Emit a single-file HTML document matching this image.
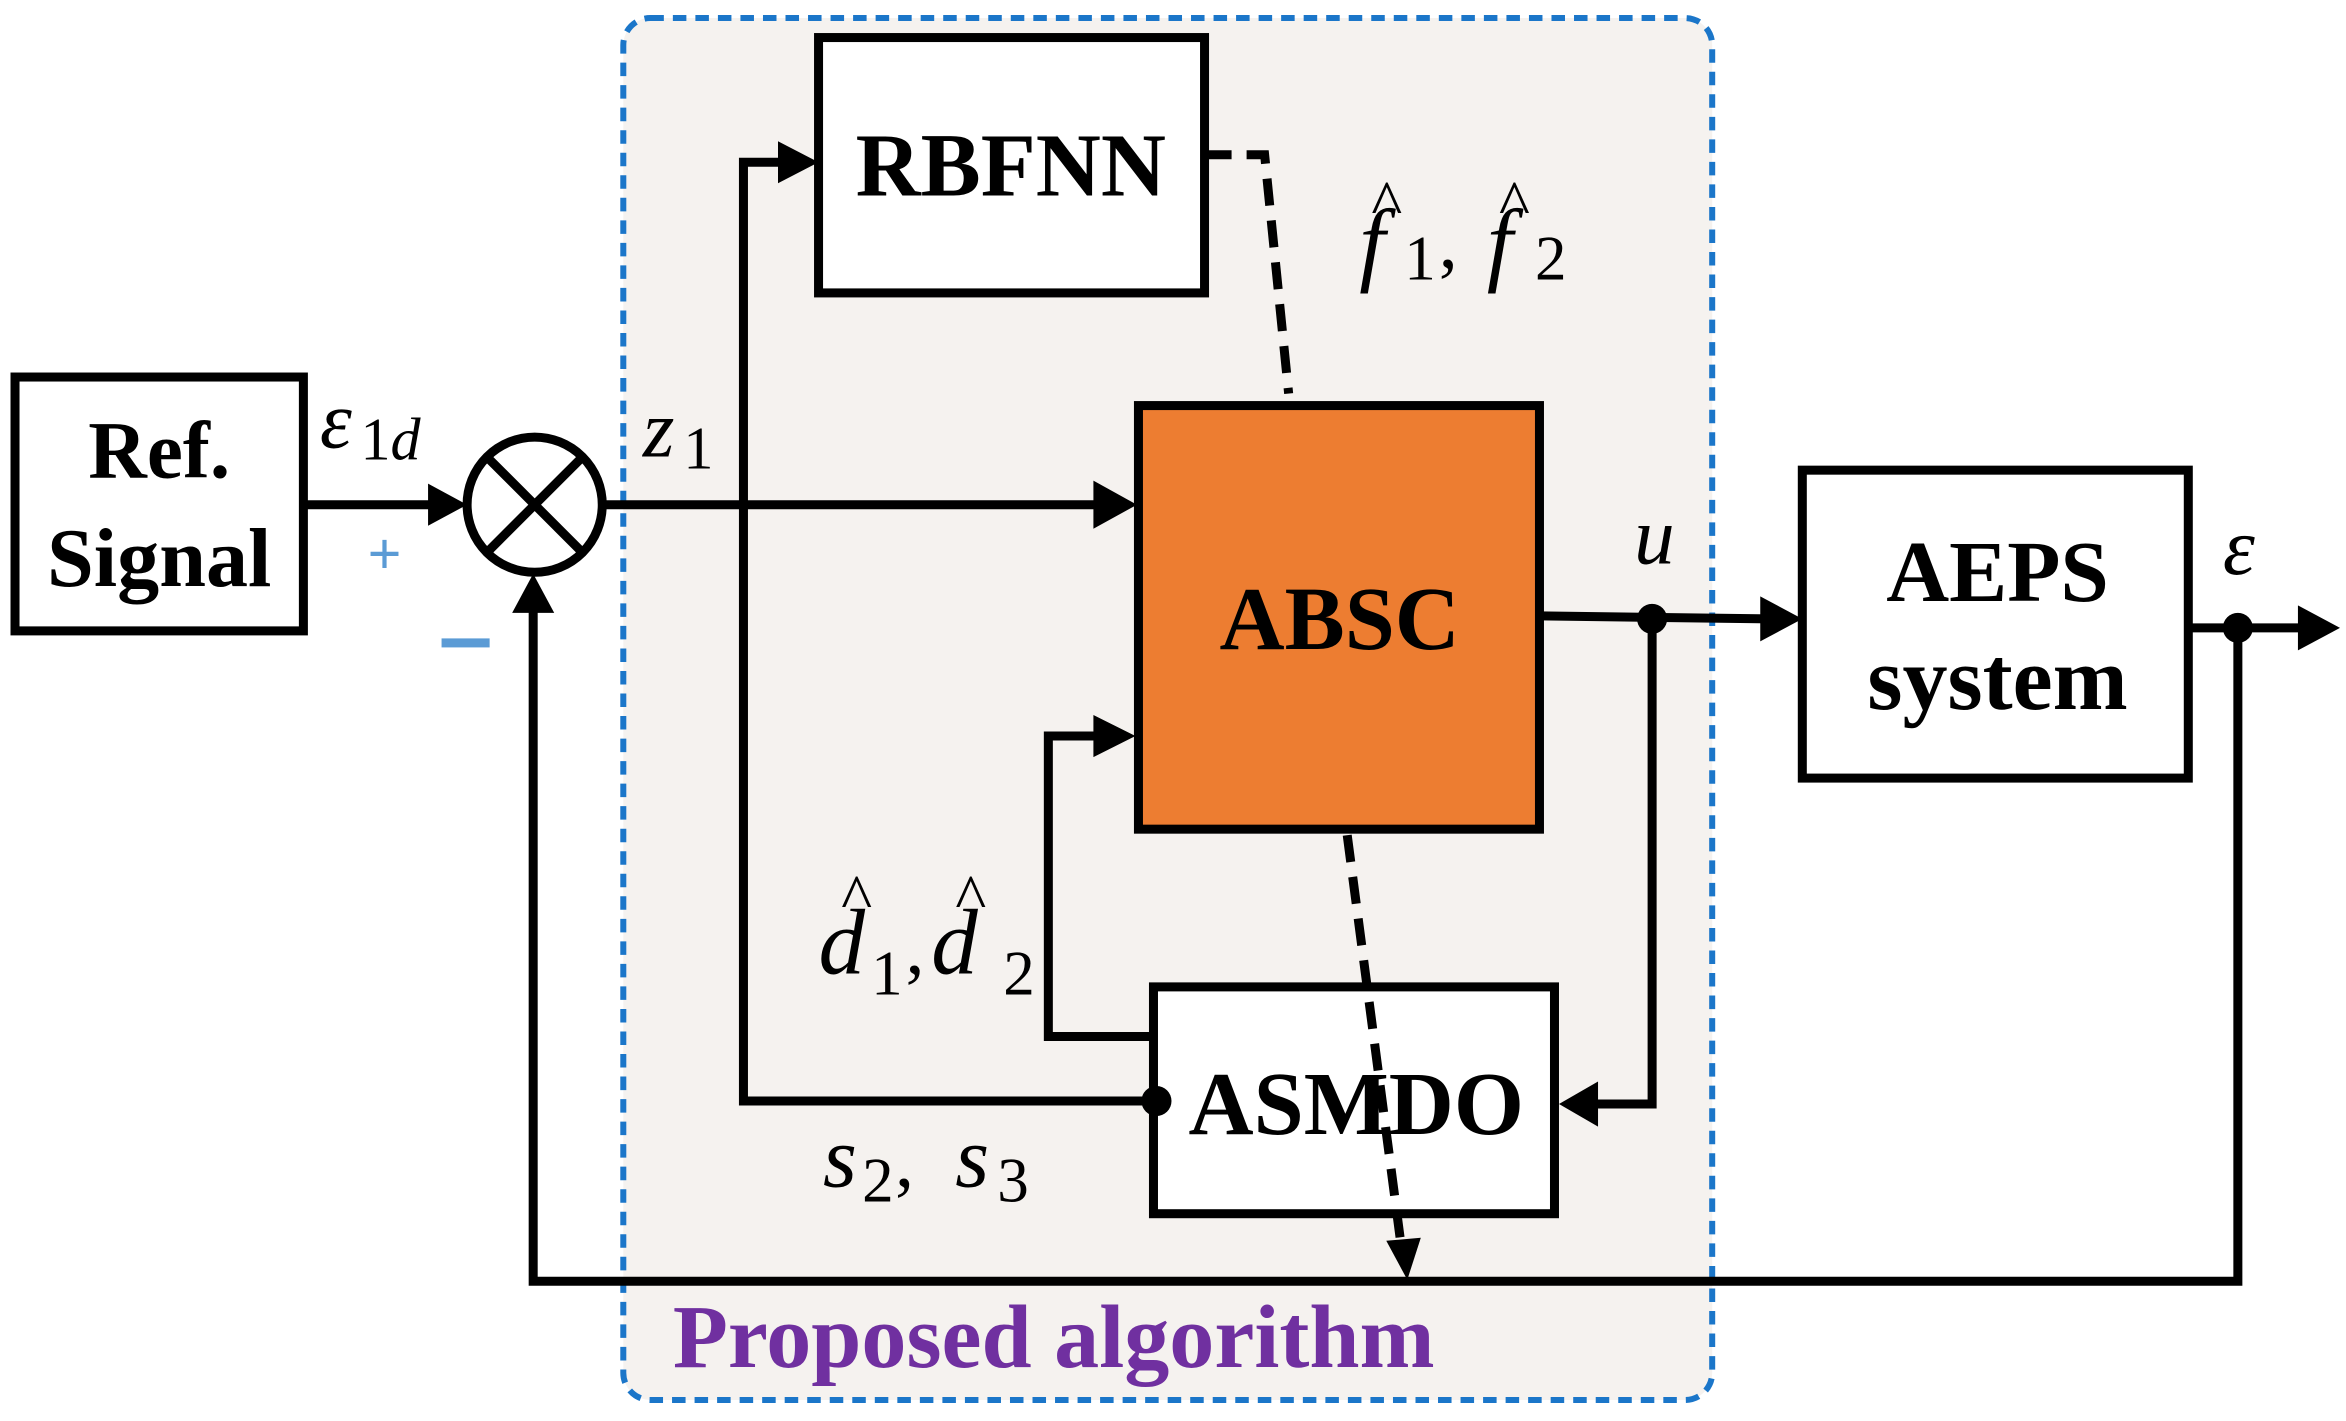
<!DOCTYPE html>
<html><head><meta charset="utf-8"><style>
html,body{margin:0;padding:0;background:#fff;}
svg{display:block;}
text{font-family:"Liberation Serif",serif;}
</style></head><body>
<svg width="2346" height="1421" viewBox="0 0 1562 946" preserveAspectRatio="none" xmlns="http://www.w3.org/2000/svg">
<rect x="415" y="12" width="725" height="920" rx="18" fill="#f5f2ef" stroke="#1b76c9" stroke-width="4" stroke-dasharray="9,6"/>
<!-- Ref signal -->
<rect x="10" y="251" width="192" height="169" fill="#fff" stroke="#000" stroke-width="6"/>
<text x="106" y="318" font-size="54" font-weight="bold" text-anchor="middle">Ref.</text>
<text x="106" y="390" font-size="56" font-weight="bold" text-anchor="middle">Signal</text>
<text x="213" y="298" font-size="54" font-style="italic">ε</text>
<text x="240" y="306" font-size="40">1</text>
<text x="260" y="306" font-size="40" font-style="italic">d</text>
<text x="256" y="382" font-size="40" fill="#5b9bd5" text-anchor="middle" font-weight="bold">+</text>
<rect x="294" y="425" width="32" height="6" fill="#5b9bd5"/>
<!-- summing -->
<line x1="202" y1="336" x2="290" y2="336" stroke="#000" stroke-width="6"/>
<polygon points="285,322 311,336 285,350" fill="#000"/>
<circle cx="356" cy="336" r="45" fill="#fff" stroke="#000" stroke-width="6"/>
<line x1="324" y1="304" x2="388" y2="368" stroke="#000" stroke-width="6"/>
<line x1="388" y1="304" x2="324" y2="368" stroke="#000" stroke-width="6"/>
<line x1="401" y1="336" x2="735" y2="336" stroke="#000" stroke-width="6"/>
<polygon points="728,320 757,336 728,352" fill="#000"/>
<text x="428" y="304" font-size="54" font-style="italic">z</text>
<text x="455" y="312" font-size="40">1</text>
<polyline points="770,733 495,733 495,108 525,108" fill="none" stroke="#000" stroke-width="6"/>
<polygon points="518,94 545,108 518,122" fill="#000"/>
<!-- RBFNN -->
<rect x="545" y="25" width="257" height="170" fill="#fff" stroke="#000" stroke-width="6"/>
<text x="673" y="130" font-size="60" font-weight="bold" text-anchor="middle">RBFNN</text>
<polyline points="802,103 842,103 858,262" fill="none" stroke="#000" stroke-width="6" stroke-dasharray="18,10"/>
<text x="905" y="182" font-size="62" font-style="italic">f</text>
<text x="913" y="150" font-size="44">^</text>
<text x="935" y="186" font-size="42">1</text>
<text x="958" y="178" font-size="50">,</text>
<text x="990" y="182" font-size="62" font-style="italic">f</text>
<text x="998" y="150" font-size="44">^</text>
<text x="1022" y="186" font-size="42">2</text>
<!-- ABSC -->
<rect x="758" y="270" width="267" height="282" fill="#ed7d31" stroke="#000" stroke-width="6"/>
<text x="892" y="432" font-size="60" font-weight="bold" text-anchor="middle">ABSC</text>
<line x1="1025" y1="410" x2="1178" y2="412" stroke="#000" stroke-width="6"/>
<polygon points="1172,397 1200,412 1172,427" fill="#000"/>
<circle cx="1100" cy="412" r="10" fill="#000"/>
<text x="1088" y="375" font-size="54" font-style="italic">u</text>
<polyline points="1100,412 1100,735 1058,735" fill="none" stroke="#000" stroke-width="6"/>
<polygon points="1064,720 1038,735 1064,750" fill="#000"/>
<!-- AEPS -->
<rect x="1200" y="313" width="257" height="205" fill="#fff" stroke="#000" stroke-width="6"/>
<text x="1330" y="400" font-size="58" font-weight="bold" text-anchor="middle">AEPS</text>
<text x="1330" y="472" font-size="60" font-weight="bold" text-anchor="middle">system</text>
<line x1="1457" y1="418" x2="1535" y2="418" stroke="#000" stroke-width="6"/>
<polygon points="1530,403 1558,418 1530,433" fill="#000"/>
<circle cx="1490" cy="418" r="10" fill="#000"/>
<text x="1480" y="382" font-size="54" font-style="italic">ε</text>
<polyline points="1490,418 1490,853 355,853 355,405" fill="none" stroke="#000" stroke-width="6"/>
<polygon points="341,408 355,382 369,408" fill="#000"/>
<polyline points="768,690 698,690 698,490 735,490" fill="none" stroke="#000" stroke-width="6"/>
<polygon points="728,476 756,490 728,504" fill="#000"/>
<!-- ASMDO -->
<rect x="768" y="657" width="267" height="151" fill="#fff" stroke="#000" stroke-width="6"/>
<text x="903" y="755" font-size="60" font-weight="bold" text-anchor="middle">ASMDO</text>
<circle cx="770" cy="733" r="10" fill="#000"/>
<line x1="897" y1="556" x2="933" y2="830" stroke="#000" stroke-width="6" stroke-dasharray="18,10"/>
<polygon points="923,826 937,852 946,824" fill="#000"/>
<text x="545" y="648" font-size="62" font-style="italic">d</text>
<text x="560" y="612" font-size="44">^</text>
<text x="580" y="662" font-size="42">1</text>
<text x="603" y="648" font-size="50">,</text>
<text x="620" y="648" font-size="62" font-style="italic">d</text>
<text x="636" y="612" font-size="44">^</text>
<text x="668" y="662" font-size="42">2</text>
<text x="548" y="790" font-size="58" font-style="italic">s</text>
<text x="574" y="800" font-size="42">2</text>
<text x="596" y="790" font-size="50">,</text>
<text x="636" y="790" font-size="58" font-style="italic">s</text>
<text x="664" y="800" font-size="42">3</text>
<text x="448" y="910" font-size="60" font-weight="bold" fill="#7030a0">Proposed algorithm</text>
</svg>
</body></html>
